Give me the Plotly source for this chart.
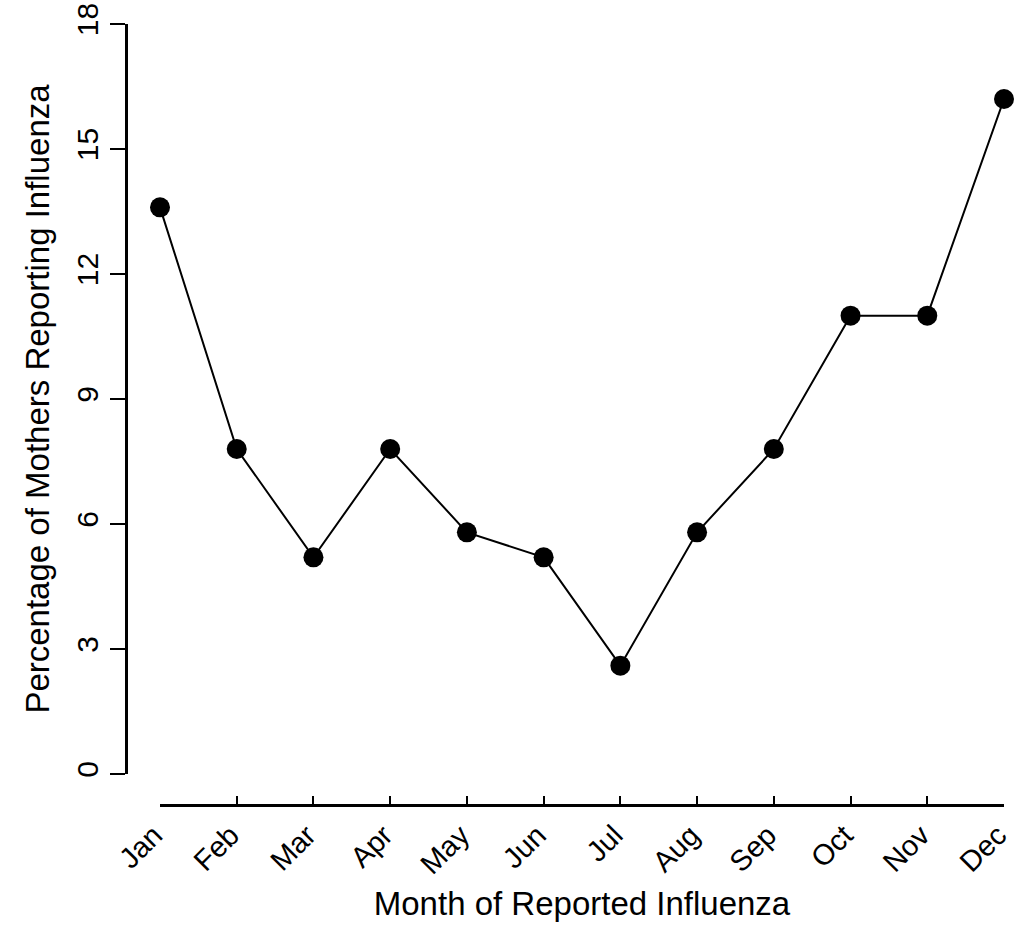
import plotly.graph_objects as go

months = ["Jan", "Feb", "Mar", "Apr", "May", "Jun", "Jul", "Aug", "Sep", "Oct", "Nov", "Dec"]
pct = [13.6, 7.8, 5.2, 7.8, 5.8, 5.2, 2.6, 5.8, 7.8, 11.0, 11.0, 16.2]
y_ticks = [0, 3, 6, 9, 12, 15, 18]

W, H = 1017, 925
L, R, T, B = 126, 13, 24, 120
pw = W - L - R
ph = H - T - B
x_dom0 = (160 - 126) / pw
y_dom0 = (805 - 774) / ph

FONT = "Liberation Sans, Arial, Helvetica, sans-serif"

fig = go.Figure()
fig.add_trace(go.Scatter(
    x=list(range(len(months))), y=pct,
    mode="lines+markers",
    line=dict(color="black", width=2),
    marker=dict(color="black", size=20),
    cliponaxis=False,
    showlegend=False,
))

fig.update_layout(
    template="none",
    width=W, height=H,
    margin=dict(l=L, r=R, t=T, b=B, pad=0),
    plot_bgcolor="white", paper_bgcolor="white",
    font=dict(family=FONT, color="black"),
    xaxis=dict(
        domain=[x_dom0, 1], anchor="free", position=0, automargin=False,
        range=[0, 11], tickmode="array",
        tickvals=list(range(len(months))), ticktext=months,
        tickangle=-45, ticks="inside", ticklen=8, tickwidth=2, tickcolor="black",
        showline=True, linecolor="black", linewidth=2.5,
        showgrid=False, zeroline=False,
        ticklabeloverflow="allow", ticklabelshift=-6,
        tickfont=dict(size=29, family=FONT),
        title=dict(text="Month of Reported Influenza", font=dict(size=33, family=FONT), standoff=12),
    ),
    yaxis=dict(
        domain=[y_dom0, 1], anchor="free", position=0, automargin=False,
        range=[0, 18], tickmode="array", tickvals=y_ticks,
        ticktext=[str(v) for v in y_ticks],
        tickangle=-90, ticks="outside", ticklen=15, tickwidth=2, tickcolor="black",
        showline=True, linecolor="black", linewidth=2.5,
        showgrid=False, zeroline=False,
        tickfont=dict(size=30, family=FONT),
        title=dict(text="Percentage of Mothers Reporting Influenza", font=dict(size=33, family=FONT), standoff=10),
    ),
)

fig.write_html("out.html", config={"displayModeBar": False},
               post_script="document.body.style.margin='0';")
